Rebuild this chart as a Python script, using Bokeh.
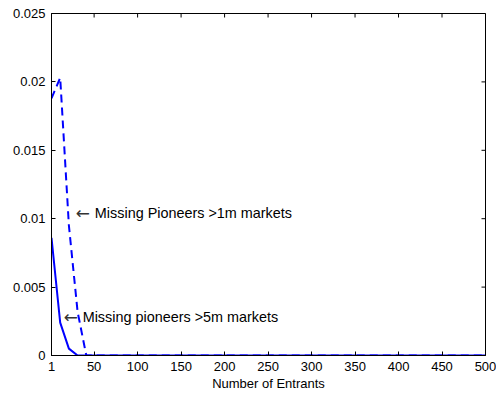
import math

from bokeh.plotting import figure
from bokeh.models import ColumnDataSource, Range1d, FixedTicker
from bokeh.core.properties import value
from bokeh.embed import file_html
from bokeh.resources import INLINE

# Number of entrants (x) and the two density series
entrants = [1, 11, 21, 31, 41, 51, 100, 200, 300, 400, 500]
pioneers_1m = [0.0188, 0.0203, 0.0095, 0.0032, 0.0, 0.0, 0.0, 0.0, 0.0, 0.0, 0.0]
pioneers_5m = [0.0086, 0.0024, 0.0005, 0.0, 0.0, 0.0, 0.0, 0.0, 0.0, 0.0, 0.0]

x_ticks = [1, 50, 100, 150, 200, 250, 300, 350, 400, 450, 500]
x_tick_labels = ["1", "50", "100", "150", "200", "250", "300", "350", "400", "450", "500"]
y_ticks = [0, 0.005, 0.01, 0.015, 0.02, 0.025]
y_tick_labels = ["0", "0.005", "0.01", "0.015", "0.02", "0.025"]

note_text = ["Missing Pioneers >1m markets", "Missing pioneers >5m markets"]
note_x = [29, 15]
note_y = [0.0104, 0.0028]

X_MIN, X_MAX = 1, 500
Y_MIN, Y_MAX = 0, 0.025
FONT = "Liberation Sans"

src = ColumnDataSource(dict(x=entrants, y1=pioneers_1m, y5=pioneers_5m))
notes = ColumnDataSource(dict(x=note_x, y=note_y, text=note_text,
                              arrow=["\u2190"] * len(note_text)))

p = figure(
    width=496, height=396,
    output_backend="svg", toolbar_location=None,
    x_range=Range1d(X_MIN, X_MAX), y_range=Range1d(Y_MIN, Y_MAX),
    min_border_left=51, min_border_right=11,
    min_border_top=13, min_border_bottom=41,
    x_axis_label="Number of Entrants",
)
p.grid.visible = False
p.outline_line_color = "black"
p.outline_line_width = 1
p.background_fill_color = "white"
p.border_fill_color = "white"

p.xaxis.ticker = FixedTicker(ticks=x_ticks)
p.xaxis.major_label_overrides = {t: s for t, s in zip(x_ticks, x_tick_labels)}
p.yaxis.ticker = FixedTicker(ticks=y_ticks)
p.yaxis.major_label_overrides = {t: s for t, s in zip(y_ticks, y_tick_labels)}

for ax in (p.xaxis[0], p.yaxis[0]):
    ax.major_tick_in = 4
    ax.major_tick_out = 0
    ax.minor_tick_in = 0
    ax.minor_tick_out = 0
    ax.axis_line_color = "black"
    ax.major_tick_line_color = "black"
    ax.major_label_text_font = FONT
    ax.major_label_text_font_size = "13px"
    ax.major_label_text_color = "black"
    ax.major_label_standoff = 6

p.xaxis.axis_label_text_font = FONT
p.xaxis.axis_label_text_font_size = "13px"
p.xaxis.axis_label_text_font_style = "normal"
p.xaxis.axis_label_text_color = "black"
p.xaxis.axis_label_standoff = 2

# Mirrored inward ticks on the top and right edges: short dash markers
# centred on the frame edge, the outer half clipped away by the frame.
p.scatter(x=x_ticks, y=[Y_MAX] * len(x_ticks), marker="dash", size=8,
          angle=math.pi / 2, line_color="black", line_width=1)
p.scatter(x=[X_MAX] * len(y_ticks), y=y_ticks, marker="dash", size=8,
          line_color="black", line_width=1)

p.line("x", "y1", source=src, line_color="#0000ff", line_width=2, line_dash="8 5")
p.line("x", "y5", source=src, line_color="#0000ff", line_width=2)

# Annotation arrows and their texts
p.text("x", "y", text="arrow", source=notes,
       text_font=value("DejaVu Sans"), text_font_size="17px",
       text_baseline="middle", text_align="left", text_color="#333333")
p.text("x", "y", text="text", source=notes, x_offset=19,
       text_font=value(FONT), text_font_size="14.4px",
       text_baseline="middle", text_align="left", text_color="black")

open("out.html", "w").write(file_html(p, INLINE))
